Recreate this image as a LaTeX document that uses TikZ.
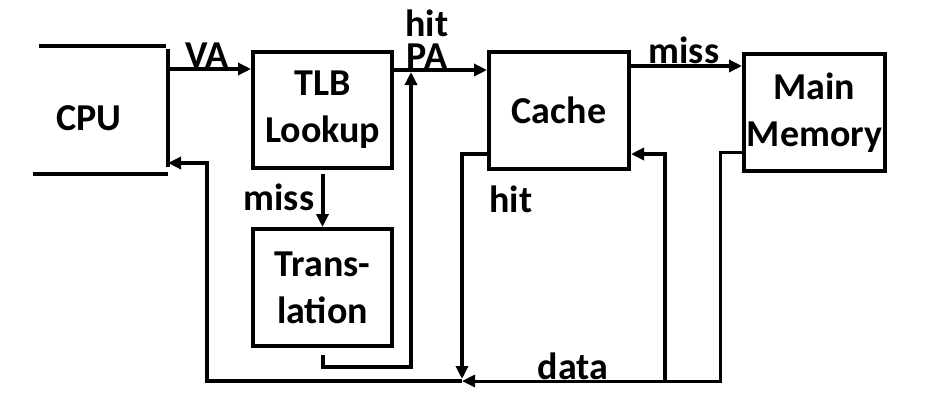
\documentclass[tikz,border=0pt]{standalone}
\usepackage{fontspec}
\setmainfont{Carlito}
\usetikzlibrary{arrows.meta}
\begin{document}
\begin{tikzpicture}[x=1pt,y=-1pt,
  every node/.style={font=\fontsize{38}{47}\selectfont\bfseries},
  box/.style={draw, line width=4pt, inner sep=0pt, align=center},
  ln/.style={line width=4pt},
  thinln/.style={line width=3pt},
  arr/.style={ln, -{Triangle[length=13pt,width=12pt]}},
  lbl/.style={anchor=base, inner sep=0pt}]
\useasboundingbox (0,0) rectangle (944,418);

% boxes
\node[box, minimum width=139pt, minimum height=116pt] (tlb) at (322.5,110) {TLB\\Lookup};
\node[box, minimum width=139pt, minimum height=117pt] (trans) at (322.5,287.5) {Trans-\\lation};
\node[box, minimum width=140pt, minimum height=117pt] (cache) at (559,110.5) {Cache};
\node[box, minimum width=141pt, minimum height=117pt] (mm) at (814.5,112.5) {Main\\Memory};

% CPU (open shape)
\node[lbl] (cpu) at (89,130) {CPU};
\coordinate (cpuTL) at (39,46);  \coordinate (cpuTR) at (166,46);
\coordinate (cpuBL) at (33,174); \coordinate (cpuBR) at (168,174);
\coordinate (cpuVT) at (168,49); \coordinate (cpuVB) at (168,167);
\draw[ln] (cpuTL) -- (cpuTR);
\draw[ln] (cpuBL) -- (cpuBR);
\draw[ln] (cpuVT) -- (cpuVB);

% labels
\node[lbl] (lva) at (207,67) {VA};
\node[lbl] (lhit1) at (427,36) {hit};
\node[lbl] (lpa) at (427,68) {PA};
\node[lbl] (lmiss1) at (684,63) {miss};
\node[lbl] (lmiss2) at (279,210) {miss};
\node[lbl] (lhit2) at (511,212) {hit};
\node[lbl] (ldata) at (573,379) {data};

% coordinates
\coordinate (vaS) at (168,69);
\coordinate (paS) at (392,70);
\coordinate (tup) at (411,72);
\coordinate (tcorner) at (411,367);
\coordinate (msS) at (629,66);
\coordinate (hitC) at (462,154);
\coordinate (hitB) at (462,379);
\coordinate (ciB) at (665,381);
\coordinate (mmC) at (720,152);
\coordinate (mmB) at (720,381);
\coordinate (dJ) at (462,381);
\coordinate (dL) at (207,381);
\coordinate (rC) at (207,163);
\coordinate (cpuIn) at (168,163);

% connectors
\draw[arr] (vaS) -- (tlb.west |- vaS);
\draw[arr] (tlb.east |- paS) -- (cache.west |- paS);
\draw[arr] ([yshift=-4pt]tlb.south) -- (trans.north);
\draw[arr] ([yshift=-7pt]trans.south) |- (tcorner) -- (tup);
\draw[arr] (cache.east |- msS) -- (mm.west |- msS);
\draw[arr] (cache.west |- hitC) -- (hitC) -- (hitB);
\draw[arr] (ciB) |- (cache.east |- hitC);
\draw[thinln, -{Triangle[length=13pt,width=12pt]}] (mm.west |- mmC) -- (mmC) -- (mmB) -- (dJ);
\draw[arr] (dJ) -- (dL) -- (rC) -- (cpuIn);
\end{tikzpicture}
\end{document}
